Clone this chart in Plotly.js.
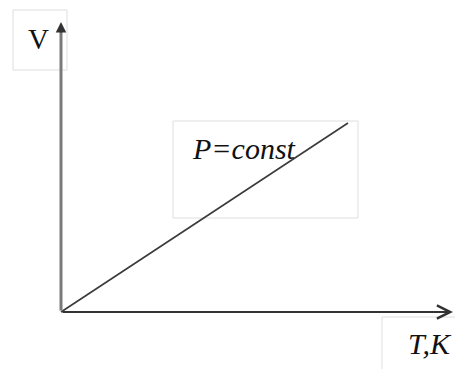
<!DOCTYPE html>
<html>
<head>
<meta charset="utf-8">
<script src="https://cdn.plot.ly/plotly-3.0.1.min.js"></script>
<style>html,body{margin:0;padding:0;background:#fff;}#chart{width:455px;height:369px;}</style>
</head>
<body>
<div id="chart"></div>
<script>
// Schematic isobaric process: V proportional to T
var T = [0, 287];
var V = [0, 189];
var xLabel = 'T,K';
var yLabel = 'V';
var lineLabel = 'P=const';

var serif = 'Liberation Serif, Times New Roman, serif';

var trace = {
  x: T, y: V, type: 'scatter', mode: 'lines',
  line: {color: '#3a3a3a', width: 1.6},
  hoverinfo: 'skip'
};

var boxLine = {color: '#dedede', width: 1};
var layout = {
  width: 455, height: 369,
  margin: {l: 0, r: 0, t: 0, b: 0},
  paper_bgcolor: '#ffffff', plot_bgcolor: '#ffffff',
  showlegend: false,
  font: {family: serif},
  xaxis: {visible: false, range: [-61, 394], fixedrange: true},
  yaxis: {visible: false, range: [-57, 312], fixedrange: true},
  shapes: [
    {type: 'rect', xref: 'x', yref: 'y', x0: -48, x1: 6, y0: 242, y1: 302, line: boxLine, layer: 'below'},
    {type: 'rect', xref: 'x', yref: 'y', x0: 112, x1: 297, y0: 94, y1: 191, line: boxLine, layer: 'below'},
    {type: 'rect', xref: 'x', yref: 'y', x0: 321, x1: 420, y0: -5, y1: -80, line: boxLine, layer: 'below'}
  ],
  annotations: [
    // horizontal axis
    {x: 392, y: 0, ax: 0, ay: 0, xref: 'x', yref: 'y', axref: 'x', ayref: 'y', text: '',
     showarrow: true, arrowhead: 5, arrowsize: 1.3, arrowwidth: 2, arrowcolor: '#333333', standoff: 0},
    // vertical axis shaft
    {x: 0, y: 282, ax: 0, ay: 0, xref: 'x', yref: 'y', axref: 'x', ayref: 'y', text: '',
     showarrow: false},
    {x: 0, y: 284, ax: 0, ay: 0, xref: 'x', yref: 'y', axref: 'x', ayref: 'y', text: '',
     showarrow: true, arrowhead: 0, arrowwidth: 3, arrowcolor: '#7a7a7a', standoff: 0},
    // vertical axis head
    {x: 0, y: 290, ax: 0, ay: 278, xref: 'x', yref: 'y', axref: 'x', ayref: 'y', text: '',
     showarrow: true, arrowhead: 2, arrowsize: 1.4, arrowwidth: 1.5, arrowcolor: '#333333', standoff: 0},
    {x: -35, y: 273, xref: 'x', yref: 'y', text: yLabel, showarrow: false, xanchor: 'left', yanchor: 'middle',
     font: {family: serif, size: 29, color: '#111'}},
    {x: 129, y: 164, xref: 'x', yref: 'y', text: '<i>' + lineLabel + '</i>', showarrow: false, xanchor: 'left', yanchor: 'middle',
     font: {family: serif, size: 30, color: '#111'}},
    {x: 345, y: -31, xref: 'x', yref: 'y', text: '<i>' + xLabel + '</i>', showarrow: false, xanchor: 'left', yanchor: 'middle',
     font: {family: serif, size: 30, color: '#111'}}
  ]
};

Plotly.newPlot('chart', [trace], layout, {displayModeBar: false, staticPlot: true});
</script>
</body>
</html>
